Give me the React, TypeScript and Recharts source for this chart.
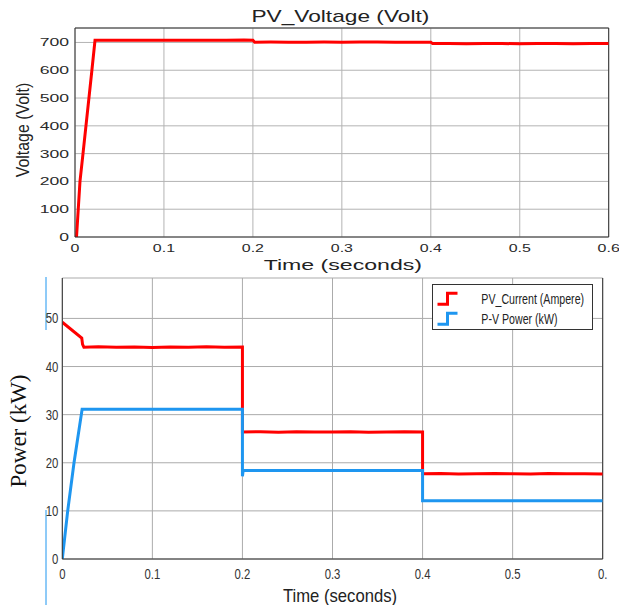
import React from 'react';
import { LineChart, Line, XAxis, YAxis, CartesianGrid, ReferenceLine, Legend } from 'recharts';

// ---------- data ----------
const voltTime = [0, 0.0017, 0.0056, 0.009, 0.019, 0.0225, 0.03, 0.05, 0.07, 0.09, 0.11, 0.13, 0.15, 0.17, 0.19, 0.2, 0.202, 0.22, 0.24, 0.26, 0.28, 0.3, 0.32, 0.34, 0.36, 0.38, 0.4, 0.402, 0.42, 0.44, 0.46, 0.48, 0.5, 0.52, 0.54, 0.56, 0.58, 0.6];
const voltValues = [0, 0, 200, 300, 600, 708, 707.5, 708, 707.5, 708, 708, 707.5, 708, 708, 708.5, 708, 701, 701.5, 701, 701, 701.5, 701, 701.5, 701.5, 701, 701, 701, 696, 696, 695.5, 696, 696, 695.5, 696, 696, 695.5, 696, 696];

const curTime = [0, 0.0216, 0.0225, 0.024, 0.04, 0.06, 0.08, 0.1, 0.12, 0.14, 0.16, 0.18, 0.2, 0.2, 0.22, 0.24, 0.26, 0.28, 0.3, 0.32, 0.34, 0.36, 0.38, 0.4, 0.4, 0.42, 0.44, 0.46, 0.48, 0.5, 0.52, 0.54, 0.56, 0.58, 0.6];
const curValues = [49.2, 45.9, 44.6, 44.0, 44.1, 44.0, 44.05, 43.95, 44.05, 44.0, 44.1, 44.0, 44.05, 26.4, 26.45, 26.35, 26.45, 26.4, 26.4, 26.45, 26.35, 26.4, 26.45, 26.4, 17.7, 17.75, 17.65, 17.7, 17.75, 17.7, 17.65, 17.75, 17.7, 17.7, 17.65];

const powTime = [0, 0.006, 0.013, 0.022, 0.05, 0.1, 0.15, 0.2, 0.2, 0.2008, 0.25, 0.3, 0.35, 0.4, 0.4, 0.45, 0.5, 0.55, 0.6];
const powValues = [0, 10, 20, 31.1, 31.1, 31.1, 31.1, 31.1, 17.2, 18.4, 18.4, 18.4, 18.4, 18.4, 12.1, 12.1, 12.1, 12.1, 12.1];

const seriesNames = ['PV_Current (Ampere)', 'P-V Power (kW)'];

const topXTicks = [0, 0.1, 0.2, 0.3, 0.4, 0.5, 0.6];
const topXTickLabels = ['0', '0.1', '0.2', '0.3', '0.4', '0.5', '0.6'];
const topYTicks = [0, 100, 200, 300, 400, 500, 600, 700];
const bottomXTicks = [0, 0.1, 0.2, 0.3, 0.4, 0.5, 0.6];
const bottomXTickLabels = ['0', '0.1', '0.2', '0.3', '0.4', '0.5', '0.'];
const bottomYTicks = [0, 10, 20, 30, 40, 50];

const voltData = voltTime.map((t, i) => ({ t, v: voltValues[i] }));
const curData = curTime.map((t, i) => ({ t, v: curValues[i] }));
const powData = powTime.map((t, i) => ({ t, v: powValues[i] }));

const SANS = '"Liberation Sans", Arial, Helvetica, sans-serif';
const SERIF = '"Liberation Serif", "Times New Roman", Times, serif';
const RED = '#ff0000';
const BLUE = '#1e96f0';

function StretchText(props: any) {
  const { x, y, sx = 1, rot = 0, anchor = 'middle', dy = '0', size = 12, family = SANS, fill = '#333', weight = 'normal', children } = props;
  return (
    <g transform={`translate(${x},${y}) rotate(${rot}) scale(${sx},1)`}>
      <text x={0} y={0} dy={dy} textAnchor={anchor} fontSize={size} fontFamily={family} fill={fill} fontWeight={weight}>
        {children}
      </text>
    </g>
  );
}

const labelFor = (ticks: number[], labels: string[], v: number) => {
  const i = ticks.findIndex((t) => Math.abs(t - v) < 1e-9);
  return i >= 0 ? labels[i] : String(v);
};

const TopXTick = (p: any) => (
  <StretchText x={p.x} y={p.y} sx={1.45} dy="0.71em" size={11} fill="#2a2a2a">
    {labelFor(topXTicks, topXTickLabels, p.payload.value)}
  </StretchText>
);
const TopYTick = (p: any) => (
  <StretchText x={p.x} y={p.y} sx={1.6} anchor="end" dy="0.355em" size={11} fill="#2a2a2a">
    {p.payload.value}
  </StretchText>
);
const BottomXTick = (p: any) => (
  <StretchText x={p.x} y={p.y} sx={0.81} dy="0.71em" size={14}>
    {labelFor(bottomXTicks, bottomXTickLabels, p.payload.value)}
  </StretchText>
);
const BottomYTick = (p: any) => (
  <StretchText x={p.x} y={p.y} sx={0.81} anchor="end" dy="0.355em" size={14}>
    {p.payload.value}
  </StretchText>
);

const TopTitle = (p: any) => {
  const vb = p.viewBox || {};
  return (
    <StretchText x={vb.x + vb.width / 2 - 1.5} y={vb.y - 6} sx={1.42} size={16} fill="#222">
      PV_Voltage (Volt)
    </StretchText>
  );
};
const TopXLabel = (p: any) => {
  const vb = p.viewBox || {};
  return (
    <StretchText x={vb.x + vb.width / 2 + 1} y={vb.y + 33} sx={1.54} size={15} fill="#222">
      Time (seconds)
    </StretchText>
  );
};
const TopYLabel = (p: any) => {
  const vb = p.viewBox || {};
  return (
    <g transform={`translate(29,${vb.y + vb.height / 2 - 2.5}) rotate(-90) scale(0.835,1)`}>
      <text x={0} y={0} textAnchor="middle" fontSize={19} fontFamily={SANS} fill="#222">
        Voltage (Volt)
      </text>
    </g>
  );
};
const BottomXLabel = (p: any) => {
  const vb = p.viewBox || {};
  return (
    <StretchText x={vb.x + vb.width / 2 + 7.5} y={vb.y + 43} sx={0.925} size={18} fill="#222">
      Time (seconds)
    </StretchText>
  );
};
const BottomYLabel = (p: any) => {
  const vb = p.viewBox || {};
  const cy = vb.y + vb.height / 2 + 12.5;
  return (
    <g>
      <line x1={46} y1={7} x2={46} y2={60} stroke={BLUE} strokeWidth={1} />
      <line x1={46} y1={240} x2={46} y2={335} stroke={BLUE} strokeWidth={1} />
      <g transform={`translate(26,${cy}) rotate(-90)`}>
        <text x={0} y={0} textAnchor="middle" fontSize={23} fontFamily={SERIF} fill="#111">
          Power (kW)
        </text>
      </g>
    </g>
  );
};

const LegendBox = (props: any) => {
  const payload = [...(props.payload || [])].sort(
    (a: any, b: any) => seriesNames.indexOf(a.value) - seriesNames.indexOf(b.value)
  );
  return (
    <div style={{ border: '1px solid #333', background: '#fff', width: 159, height: 44, lineHeight: 0 }}>
      <svg width={159} height={44} style={{ display: 'block' }}>
        {payload.map((p: any, i: number) => {
          const yb = 19.3 + i * 20;
          return (
            <g key={i}>
              <path d={`M4.5 ${yb} H14.5 V${yb - 11} H24.5`} stroke={p.color} strokeWidth={3} fill="none" />
              <StretchText x={48.3} y={yb - 0.5} sx={0.76} anchor="start" size={14} fill="#222">
                {p.value}
              </StretchText>
            </g>
          );
        })}
      </svg>
    </div>
  );
};

export default function App() {
  return (
    <div style={{ position: 'absolute', left: 0, top: 0, width: 619, height: 605, background: '#fff' }}>
      <div style={{ position: 'absolute', left: 0, top: 0 }}>
        <LineChart width={619} height={276} margin={{ top: 28, right: 10.3, bottom: 9, left: 0 }}>
          <CartesianGrid stroke="#b3b3b3" />
          <XAxis
            type="number"
            dataKey="t"
            domain={[0, 0.6]}
            ticks={topXTicks}
            interval={0}
            allowDataOverflow
            tick={TopXTick}
            tickLine={false}
            tickSize={5}
            tickMargin={2}
            axisLine={{ stroke: '#333' }}
            height={30}
            label={TopXLabel}
          />
          <YAxis
            type="number"
            domain={[0, 752]}
            ticks={topYTicks}
            interval={0}
            allowDataOverflow
            tick={TopYTick}
            tickLine={false}
            tickSize={4}
            tickMargin={2}
            axisLine={{ stroke: '#333' }}
            width={75}
            label={TopYLabel}
          />
          <ReferenceLine x={0.6} stroke="#333" />
          <ReferenceLine y={752} stroke="#333" label={TopTitle} />
          <Line data={voltData} dataKey="v" type="linear" stroke={RED} strokeWidth={3} dot={false} isAnimationActive={false} />
        </LineChart>
      </div>
      <div style={{ position: 'absolute', left: 0, top: 270 }}>
        <LineChart width={619} height={335} margin={{ top: 8, right: 16.3, bottom: 0, left: 0 }}>
          <CartesianGrid stroke="#ababab" />
          <XAxis
            type="number"
            dataKey="t"
            domain={[0, 0.6]}
            ticks={bottomXTicks}
            interval={0}
            allowDataOverflow
            tick={BottomXTick}
            tickLine={false}
            tickSize={7}
            tickMargin={3}
            axisLine={{ stroke: '#333' }}
            height={46}
            label={BottomXLabel}
          />
          <YAxis
            type="number"
            domain={[0, 58.4]}
            ticks={bottomYTicks}
            interval={0}
            allowDataOverflow
            tick={BottomYTick}
            tickLine={false}
            tickSize={2}
            tickMargin={2}
            axisLine={{ stroke: '#333' }}
            width={62.3}
            label={BottomYLabel}
          />
          <ReferenceLine x={0.6} stroke="#333" />
          <Legend
            layout="vertical"
            align="center"
            verticalAlign="middle"
            content={LegendBox}
            wrapperStyle={{ position: 'absolute', left: 431.7, top: 14, width: 'auto', height: 'auto' }}
          />
          <Line name={seriesNames[0]} data={curData} dataKey="v" type="linear" stroke={RED} strokeWidth={3} dot={false} isAnimationActive={false} />
          <Line name={seriesNames[1]} data={powData} dataKey="v" type="linear" stroke={BLUE} strokeWidth={3} dot={false} isAnimationActive={false} />
        </LineChart>
      </div>
    </div>
  );
}
